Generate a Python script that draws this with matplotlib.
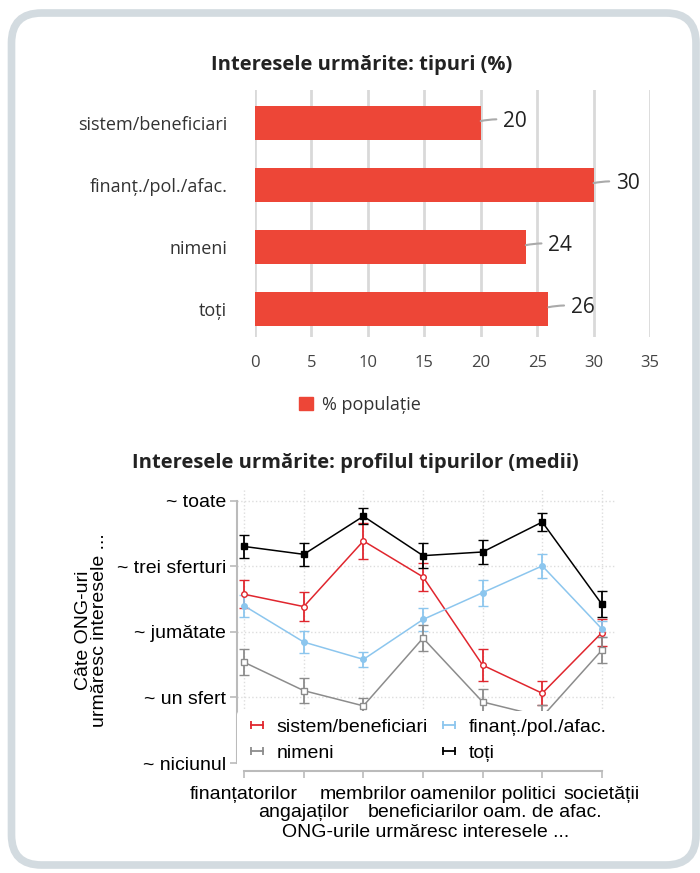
import matplotlib
matplotlib.use("Agg")
from matplotlib import pyplot as plt
from matplotlib.patches import FancyBboxPatch, Patch
from matplotlib.lines import Line2D

# --- data: top bar chart ---
bar_cats = ['sistem/beneficiari', 'finanț./pol./afac.', 'nimeni', 'toți']
bar_vals = [20, 30, 24, 26]

# --- data: bottom profile chart (share of NGOs, 0-100) ---
x_labels = ['finanțatorilor', 'angajaților', 'membrilor', 'beneficiarilor',
            'oamenilor politici', 'oam. de afac.', 'societății']
y_tick_labels = ['~ niciunul', '~ un sfert', '~ jumătate', '~ trei sferturi', '~ toate']
series_names = ['sistem/beneficiari', 'finanț./pol./afac.', 'nimeni', 'toți']
sistem = [64.3, 59.6, 84.6, 70.9, 37.3, 26.6, 49.7]
sistem_err = [5.4, 5.4, 6.8, 5.4, 6.0, 4.6, 5.0]
finant = [59.9, 46.1, 39.5, 54.7, 64.9, 75.1, 51.1]
finant_err = [4.3, 4.3, 3.0, 4.5, 4.9, 4.7, 3.0]
nimeni = [38.4, 27.6, 21.8, 47.6, 23.3, 17.7, 43.0]
nimeni_err = [4.9, 4.8, 3.0, 5.0, 5.0, 4.5, 5.0]
toti = [82.5, 79.5, 94.0, 79.0, 80.4, 91.8, 60.5]
toti_err = [4.5, 4.4, 3.0, 4.7, 4.6, 3.5, 5.0]

W, H = 700, 873
fig = plt.figure(figsize=(7, 8.73), dpi=100)


def box(x0, y0, x1, y1):
    # pixel box (top-left origin) -> figure fraction
    return [x0 / W, 1 - y1 / H, (x1 - x0) / W, (y1 - y0) / H]


# rounded frame
frame = FancyBboxPatch((11.5 / 100, 8 / 100), (696 - 11.5) / 100, (860 - 8) / 100,
                       boxstyle="round,pad=0,rounding_size=0.3",
                       transform=fig.dpi_scale_trans, facecolor='white',
                       edgecolor='#d3dbe0', linewidth=5.5, zorder=-10)
fig.patches.append(frame)

# ---------------- top chart ----------------
top_font = 'Open Sans'
bar_red = '#ed4637'
ax1 = fig.add_axes(box(255, 90, 650, 337))
ypos = list(range(len(bar_cats)))
ax1.barh(ypos, bar_vals, height=0.56, color=bar_red, zorder=3)
ax1.set_xlim(0, 35)
ax1.set_ylim(3.45, -0.53)
ax1.set_xticks(range(0, 36, 5))
ax1.set_yticks(ypos)
ax1.set_yticklabels(bar_cats, fontsize=13, family=top_font, color='#333333')
for lab in ax1.get_xticklabels():
    lab.set_fontsize(12)
    lab.set_family(top_font)
    lab.set_color('#444444')
ax1.tick_params(length=0)
ax1.tick_params(axis='x', pad=13)
ax1.tick_params(axis='y', pad=20)
ax1.grid(axis='x', color='#d9d9d9', linewidth=2, zorder=0)
for s in ax1.spines.values():
    s.set_visible(False)
for i, v in enumerate(bar_vals):
    ax1.annotate(str(v), xy=(v, i - 0.03), xytext=(v + 2.0, i - 0.03),
                 ha='left', va='center', fontsize=15, family=top_font, color='#222222',
                 arrowprops=dict(arrowstyle='-', color='#aaaaaa', lw=1.5,
                                 shrinkA=3, shrinkB=0,
                                 connectionstyle='arc3,rad=0.1'))
fig.text(362 / W, 1 - 65 / H, 'Interesele urmărite: tipuri (%)', ha='center', va='center',
         fontsize=14.5, fontweight='bold', family=top_font, color='#222222')
fig.legend(handles=[Patch(facecolor=bar_red, edgecolor=bar_red, label='% populație')],
           loc='center left', bbox_to_anchor=(283 / W, 1 - 405 / H), frameon=False,
           prop={'family': top_font, 'size': 13}, handlelength=0.75, handleheight=0.75,
           handletextpad=0.5, labelcolor='#333333')

# ---------------- bottom chart ----------------
bot_font = 'Liberation Sans'
ax2 = fig.add_axes(box(237, 490, 615, 771))
xs = list(range(len(x_labels)))
styles = [
    (sistem, sistem_err, '#e0262e', 'o', 'none'),
    (finant, finant_err, '#8cc6ee', 'o', None),
    (nimeni, nimeni_err, '#8c8c8c', 's', 'none'),
    (toti, toti_err, '#000000', 's', None),
]
handles = []
for (vals, err, col, mk, mfc), name in zip(styles, series_names):
    ax2.errorbar(xs, vals, yerr=err, color=col, marker=mk, markersize=4,
                 mfc=col if mfc is None else 'white', mec=col, mew=1.0,
                 linewidth=1.1, elinewidth=1.3, capsize=3.5, capthick=1.3, zorder=3)
    handles.append(Line2D([], [], color=col, marker='|', markersize=6, mew=1.3,
                          linewidth=1.3, label=name))
ax2.set_xlim(-0.12, 6.22)
ax2.set_ylim(-3, 104)
ax2.set_yticks([0, 25, 50, 75, 100])
ax2.set_yticklabels(y_tick_labels, fontsize=14, family=bot_font)
# staggered x labels: even positions on the first row, odd ones on the second
ax2.set_xticks(xs[0::2])
ax2.set_xticklabels(x_labels[0::2], fontsize=14, family=bot_font)
ax2.set_xticks(xs[1::2], minor=True)
ax2.set_xticklabels(x_labels[1::2], minor=True, fontsize=14, family=bot_font)
ax2.tick_params(axis='both', which='both', direction='out', length=5, color='#bbbbbb',
                width=1.2)
ax2.tick_params(axis='x', which='major', pad=6)
ax2.tick_params(axis='x', which='minor', pad=19)
ax2.tick_params(axis='y', pad=3)
ax2.grid(True, which='major', color='#dddddd', linestyle=':', linewidth=1, zorder=0)
ax2.grid(True, axis='x', which='minor', color='#dddddd', linestyle=':', linewidth=1, zorder=0)
ax2.spines['top'].set_visible(False)
ax2.spines['right'].set_visible(False)
ax2.spines['left'].set_bounds(0, 100)
ax2.spines['bottom'].set_bounds(0, 6)
for s in ('left', 'bottom'):
    ax2.spines[s].set_color('#bbbbbb')
    ax2.spines[s].set_linewidth(1.5)
ax2.set_xlabel('ONG-urile urmăresc interesele ...', fontsize=14, family=bot_font, labelpad=2)
ax2.set_ylabel('Câte ONG-uri\nurmăresc interesele ...', fontsize=14, family=bot_font,
               labelpad=6, linespacing=0.95)
# column-wise fill: col 1 = sistem, nimeni; col 2 = finant, toti
leg = ax2.legend(handles=[handles[0], handles[2], handles[1], handles[3]], ncol=2,
                 loc='upper left', bbox_to_anchor=(0.0, 0.214), borderaxespad=0,
                 numpoints=2, frameon=True, facecolor='white', edgecolor='none',
                 framealpha=1, prop={'family': bot_font, 'size': 14}, handlelength=1.25,
                 handletextpad=0.4, columnspacing=0.45, borderpad=0.4, labelspacing=0.4)
leg.set_zorder(5)
fig.text(355 / W, 1 - 463 / H, 'Interesele urmărite: profilul tipurilor (medii)',
         ha='center', va='center', fontsize=14.5, fontweight='bold', family=top_font,
         color='#222222')

fig.savefig('out.png', dpi=100, facecolor='white')
